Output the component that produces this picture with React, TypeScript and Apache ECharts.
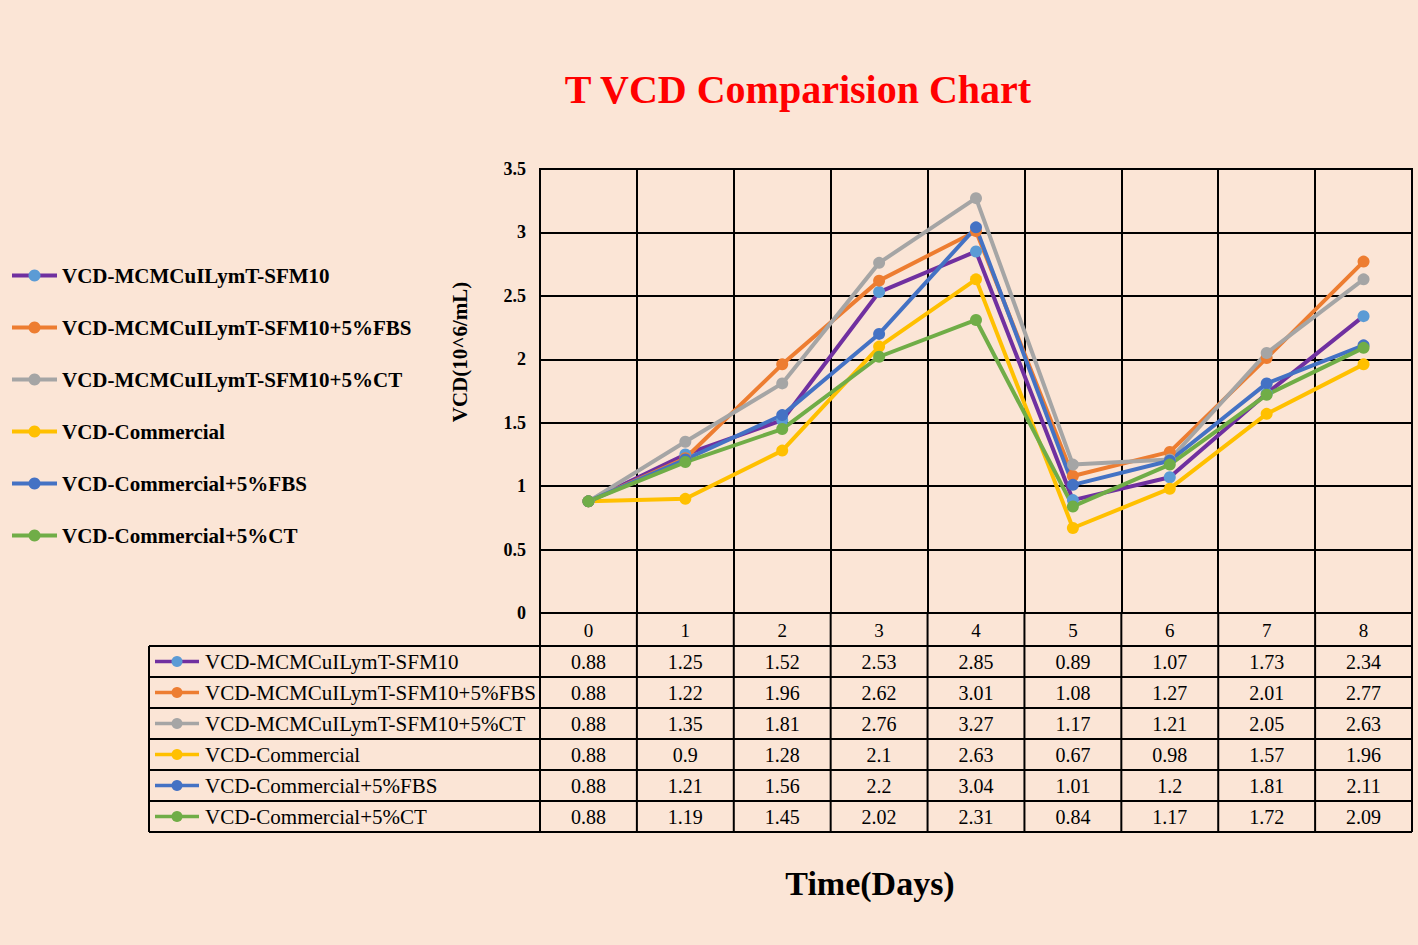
import React, { useEffect, useRef } from "react";
import * as echarts from "echarts";

const categories = ["0", "1", "2", "3", "4", "5", "6", "7", "8"];
const seriesNames = [
  "VCD-MCMCuILymT-SFM10",
  "VCD-MCMCuILymT-SFM10+5%FBS",
  "VCD-MCMCuILymT-SFM10+5%CT",
  "VCD-Commercial",
  "VCD-Commercial+5%FBS",
  "VCD-Commercial+5%CT",
];
const sfm10 = [0.88, 1.25, 1.52, 2.53, 2.85, 0.89, 1.07, 1.73, 2.34];
const sfm10Fbs = [0.88, 1.22, 1.96, 2.62, 3.01, 1.08, 1.27, 2.01, 2.77];
const sfm10Ct = [0.88, 1.35, 1.81, 2.76, 3.27, 1.17, 1.21, 2.05, 2.63];
const commercial = [0.88, 0.9, 1.28, 2.1, 2.63, 0.67, 0.98, 1.57, 1.96];
const commercialFbs = [0.88, 1.21, 1.56, 2.2, 3.04, 1.01, 1.2, 1.81, 2.11];
const commercialCt = [0.88, 1.19, 1.45, 2.02, 2.31, 0.84, 1.17, 1.72, 2.09];
const seriesValues = [sfm10, sfm10Fbs, sfm10Ct, commercial, commercialFbs, commercialCt];
const lineColors = ["#7030A0", "#ED7D31", "#A5A5A5", "#FFC000", "#4472C4", "#70AD47"];
const markerColors = ["#5B9BD5", "#ED7D31", "#A5A5A5", "#FFC000", "#4472C4", "#70AD47"];

const FONT = "'Liberation Serif', 'Times New Roman', serif";
const BG = "#FBE5D6";

export default function App() {
  const ref = useRef<HTMLDivElement>(null);
  useEffect(() => {
    if (!ref.current) return;
    const chart = echarts.init(ref.current, null, { renderer: "svg" });
    const gridTop = 169;
    const gridBottomY = 613;
    chart.setOption({
      animation: false,
      backgroundColor: BG,
      title: {
        text: "T VCD Comparision Chart",
        left: 793,
        top: 64,
        textAlign: "center",
        textStyle: { color: "#FF0000", fontSize: 40, fontWeight: "bold", fontFamily: FONT },
      },
      legend: {
        orient: "vertical",
        left: 5,
        top: 260,
        itemWidth: 45,
        itemHeight: 15,
        itemGap: 31,
        data: seriesNames,
        lineStyle: { width: 4 },
        textStyle: { fontSize: 21, fontWeight: "bold", fontFamily: FONT, color: "#000" },
      },
      grid: {
        left: 540,
        right: 6,
        top: gridTop,
        bottom: 945 - gridBottomY,
        show: true,
        borderColor: "#000",
        borderWidth: 2,
        containLabel: false,
      },
      xAxis: {
        type: "category",
        data: categories,
        boundaryGap: true,
        axisLine: { lineStyle: { color: "#000", width: 2 } },
        axisTick: { show: false },
        axisLabel: { fontSize: 19, fontFamily: FONT, color: "#000", margin: 8, interval: 0 },
        splitLine: { show: true, interval: 0, lineStyle: { color: "#000", width: 2 } },
      },
      yAxis: {
        type: "value",
        min: 0,
        max: 3.5,
        interval: 0.5,
        axisLine: { show: true, lineStyle: { color: "#000", width: 2 } },
        axisTick: { show: false },
        axisLabel: { fontSize: 18, fontWeight: "bold", fontFamily: FONT, color: "#000", margin: 14 },
        splitLine: { show: true, lineStyle: { color: "#000", width: 2 } },
      },
      series: seriesNames.map((name, i) => ({
        name,
        type: "line",
        data: seriesValues[i],
        symbol: "circle",
        symbolSize: 12,
        lineStyle: { color: lineColors[i], width: 4 },
        itemStyle: { color: markerColors[i] },
      })),
    });

    const centers = categories.map((c) => chart.convertToPixel({ xAxisIndex: 0 }, c) as number);
    const step = centers[1] - centers[0];
    const plotLeft = centers[0] - step / 2;
    const plotRight = centers[centers.length - 1] + step / 2;
    const tableLeft = 149;
    const rowTop = 646;
    const rowH = 31;
    const tableBottom = rowTop + rowH * seriesNames.length;
    const black = { stroke: "#000", lineWidth: 2 };
    const els: any[] = [];
    for (let k = 0; k <= categories.length; k++) {
      const x = plotLeft + k * step;
      els.push({ type: "line", shape: { x1: x, y1: gridBottomY, x2: x, y2: tableBottom }, style: black, silent: true });
    }
    els.push({ type: "line", shape: { x1: tableLeft, y1: rowTop, x2: tableLeft, y2: tableBottom }, style: black });
    for (let r = 0; r <= seriesNames.length; r++) {
      const y = rowTop + r * rowH;
      els.push({ type: "line", shape: { x1: tableLeft, y1: y, x2: plotRight, y2: y }, style: black });
    }
    seriesNames.forEach((name, r) => {
      const cy = rowTop + r * rowH + rowH / 2;
      els.push({ type: "line", shape: { x1: 155, y1: cy, x2: 199, y2: cy }, style: { stroke: lineColors[r], lineWidth: 3.5 } });
      els.push({ type: "circle", shape: { cx: 177, cy, r: 5.5 }, style: { fill: markerColors[r] } });
      els.push({
        type: "text",
        x: 205,
        y: cy,
        style: { text: name, fontSize: 21, fontFamily: FONT, fill: "#000", textVerticalAlign: "middle", textAlign: "left" },
      });
      seriesValues[r].forEach((v, c) => {
        els.push({
          type: "text",
          x: centers[c],
          y: cy,
          style: { text: String(v), fontSize: 20, fontFamily: FONT, fill: "#000", textVerticalAlign: "middle", textAlign: "center" },
        });
      });
    });
    els.push({
      type: "text",
      x: 460,
      y: 352,
      rotation: Math.PI / 2,
      style: { text: "VCD(10^6/mL)", fontSize: 21, fontWeight: "bold", fontFamily: FONT, fill: "#000", textAlign: "center", textVerticalAlign: "middle" },
    });
    els.push({
      type: "text",
      x: 870,
      y: 883,
      style: { text: "Time(Days)", fontSize: 34, fontWeight: "bold", fontFamily: FONT, fill: "#000", textAlign: "center", textVerticalAlign: "middle" },
    });
    chart.setOption({ graphic: els });
    return () => chart.dispose();
  }, []);
  return <div ref={ref} style={{ position: "fixed", left: 0, top: 0, width: 1418, height: 945 }} />;
}
